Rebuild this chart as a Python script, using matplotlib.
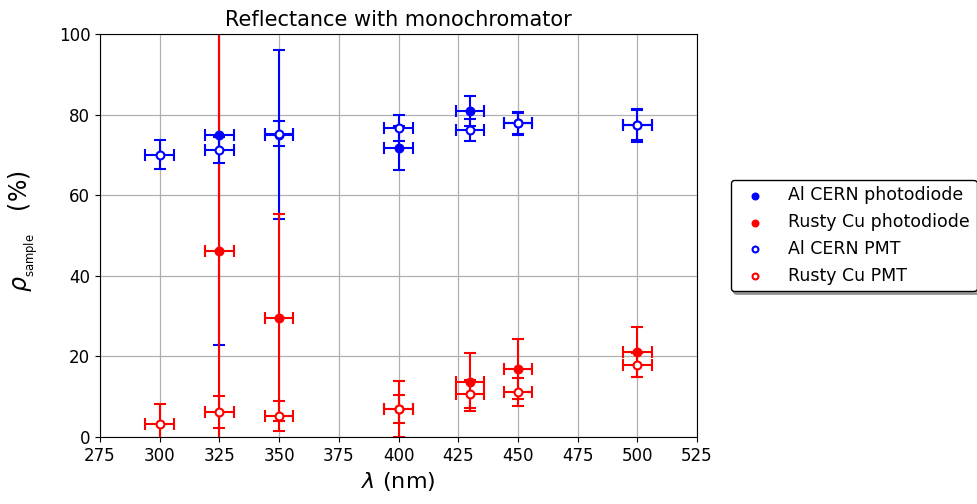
import numpy as np
import matplotlib
matplotlib.use('Agg')
import matplotlib.pyplot as plt

plt.rcParams.update({'font.size': 12})

# longitudes de onda (nm) y error horizontal
lam_al_pd = [325, 350, 400, 430, 450, 500]
al_pd = [74.9, 75.0, 71.7, 80.9, 77.8, 77.4]
al_pd_err = [52.0, 21.0, 5.4, 3.7, 2.5, 3.8]

lam_cu_pd = [325, 350, 400, 430, 450, 500]
cu_pd = [46.2, 29.6, 7.0, 13.7, 16.8, 21.1]
cu_pd_err = [55.0, 25.7, 7.0, 7.2, 7.4, 6.3]

lam_al_pmt = [300, 325, 350, 400, 430, 450, 500]
al_pmt = [70.1, 71.2, 75.3, 76.7, 76.2, 77.8, 77.3]
al_pmt_err = [3.7, 3.3, 3.0, 3.2, 2.7, 2.8, 4.2]

lam_cu_pmt = [300, 325, 350, 400, 430, 450, 500]
cu_pmt = [3.1, 6.2, 5.2, 7.0, 10.6, 11.2, 17.8]
cu_pmt_err = [5.0, 4.0, 3.8, 3.5, 3.5, 3.5, 3.0]

lam_err = 6

fig, ax = plt.subplots(figsize=(9.78, 5.04), dpi=100)
fig.subplots_adjust(left=0.1023, right=0.7127, bottom=0.133, top=0.9325)

series = [
    (lam_al_pd, al_pd, al_pd_err, 'blue', True, 'Al CERN photodiode'),
    (lam_cu_pd, cu_pd, cu_pd_err, 'red', True, 'Rusty Cu photodiode'),
    (lam_al_pmt, al_pmt, al_pmt_err, 'blue', False, 'Al CERN PMT'),
    (lam_cu_pmt, cu_pmt, cu_pmt_err, 'red', False, 'Rusty Cu PMT'),
]

for x, y, yerr, col, lleno, nombre in series:
    ax.errorbar(x, y, yerr=yerr, xerr=lam_err, fmt='none', ecolor=col,
                elinewidth=1.5, capsize=4, capthick=1.5, zorder=2)
    ax.scatter(x, y, s=32, color=col if lleno else 'white', edgecolors=col,
               linewidths=1.5, label=nombre, zorder=3)

ax.set_xlim(275, 525)
ax.set_ylim(0, 100)
ax.set_xticks(np.arange(275, 526, 25))
ax.set_yticks(np.arange(0, 101, 20))
ax.grid(True, color='#b0b0b0', linewidth=0.9)
ax.set_axisbelow(True)
ax.set_title('Reflectance with monochromator', fontsize=15)
ax.set_xlabel(r'$\lambda$ (nm)', fontsize=16)
ax.set_ylabel(r'$\rho_{_{\rm sample}}$   (%)', fontsize=17)
ax.yaxis.set_label_coords(-0.1, 0.51)

ax.legend(loc='center left', bbox_to_anchor=(1.042, 0.5), shadow=True,
          edgecolor='black', framealpha=1, handletextpad=0.9,
          fontsize=12.5, markerscale=0.75)

fig.savefig('out.png', dpi=100)
